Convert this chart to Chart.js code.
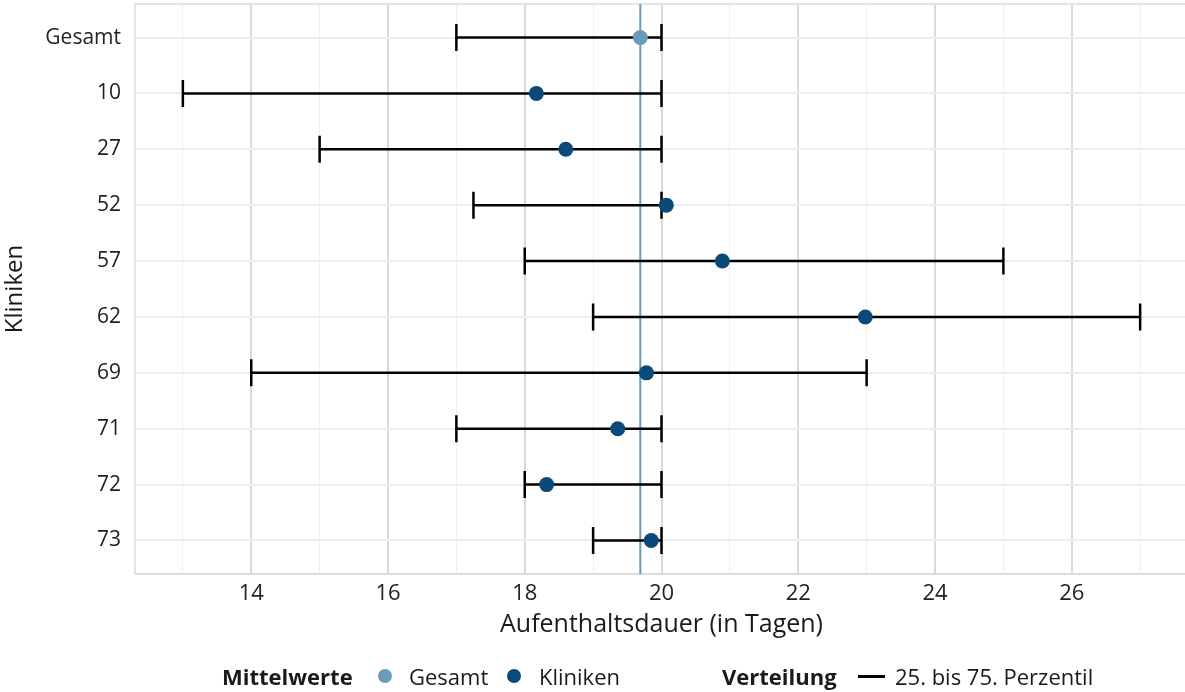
<!DOCTYPE html>
<html>
<head>
<meta charset="utf-8">
<script src="https://cdn.jsdelivr.net/npm/chart.js@4.4.1/dist/chart.umd.min.js"></script>
<style>
    html, body { margin: 0; padding: 0; background: #fff; overflow: hidden; }
    #wrap { position: relative; width: 1185px; height: 692px; overflow: hidden; }
    #chart { position: absolute; left: 0; top: 0; }
    .lg { position: absolute; top: 663px; height: 26px; line-height: 26px; font-family: "Open Sans", sans-serif; font-size: 22px; color: #1a1a1a; white-space: nowrap; }
    .lg b { font-weight: 700; }
    .dot { position: absolute; top: 669px; width: 14px; height: 14px; border-radius: 50%; }
    .dash { position: absolute; top: 675px; height: 3px; width: 27px; background: #000; }
</style>
</head>
<body>
<div id="wrap">
    <canvas id="chart" width="1188" height="692"></canvas>
    <span class="lg" style="left:222px"><b>Mittelwerte</b></span>
    <span class="dot" style="left:378px;background:#6b9bba"></span>
    <span class="lg" style="left:409px">Gesamt</span>
    <span class="dot" style="left:507px;background:#0b4a78"></span>
    <span class="lg" style="left:539px">Kliniken</span>
    <span class="lg" style="left:722px"><b>Verteilung</b></span>
    <span class="dash" style="left:858px"></span>
    <span class="lg" style="left:895px">25. bis 75. Perzentil</span>
</div>
<script>
// Kliniken (Gesamt zuerst), Mittelwerte und 25./75. Perzentil
const kliniken = ["Gesamt", "10", "27", "52", "57", "62", "69", "71", "72", "73"];
const mittelwerte = [19.69, 18.17, 18.6, 20.07, 20.89, 22.98, 19.78, 19.36, 18.32, 19.85];
const perzentil25 = [17, 13, 15, 17.25, 18, 19, 14, 17, 18, 19];
const perzentil75 = [20, 20, 20, 20, 25, 27, 23, 20, 20, 20];
const xTicks = [14, 16, 18, 20, 22, 24, 26];

const FONT = "'Open Sans', sans-serif";
const colGesamt = "#6b9bba";
const colKlinik = "#0b4a78";

// no extra label padding around the panel
function noPad(s) {
    s.paddingTop = 0; s.paddingBottom = 0; s.paddingLeft = 0; s.paddingRight = 0;
}

// vertical mean line + whiskers, drawn under the points
const errorBars = {
    id: "errorBars",
    beforeDatasetsDraw(chart) {
        const { ctx, chartArea: a, scales: { x, y } } = chart;
        ctx.save();
        // panel frame top/right
        ctx.strokeStyle = "#e4e4e4";
        ctx.lineWidth = 2;
        ctx.beginPath();
        ctx.moveTo(a.left, a.top); ctx.lineTo(a.right, a.top); ctx.lineTo(a.right, a.bottom);
        ctx.stroke();

        const gx = x.getPixelForValue(mittelwerte[0]);
        ctx.strokeStyle = colGesamt;
        ctx.lineWidth = 2;
        ctx.beginPath();
        ctx.moveTo(gx, a.top); ctx.lineTo(gx, a.bottom);
        ctx.stroke();

        ctx.strokeStyle = "#000";
        ctx.lineWidth = 2.5;
        kliniken.forEach((k, i) => {
            const py = y.getPixelForValue(i);
            const x0 = x.getPixelForValue(perzentil25[i]);
            const x1 = x.getPixelForValue(perzentil75[i]);
            const h = 13.5;
            ctx.beginPath();
            ctx.moveTo(x0, py); ctx.lineTo(x1, py);
            ctx.moveTo(x0, py - h); ctx.lineTo(x0, py + h);
            ctx.moveTo(x1, py - h); ctx.lineTo(x1, py + h);
            ctx.stroke();
        });
        ctx.restore();
    }
};

new Chart(document.getElementById("chart"), {
    type: "scatter",
    data: {
        datasets: [
            {
                label: "Gesamt",
                data: [{ x: mittelwerte[0], y: 0 }],
                backgroundColor: colGesamt,
                pointRadius: 7.5,
                pointBorderWidth: 0,
            },
            {
                label: "Kliniken",
                data: mittelwerte.slice(1).map((m, i) => ({ x: m, y: i + 1 })),
                backgroundColor: colKlinik,
                pointRadius: 7.5,
                pointBorderWidth: 0,
            },
        ],
    },
    options: {
        responsive: false,
        animation: false,
        layout: { autoPadding: false, padding: { left: 0, right: 0, top: 4, bottom: 52 } },
        plugins: { legend: { display: false }, tooltip: { enabled: false } },
        scales: {
            x: {
                type: "linear",
                min: 12.3,
                max: 27.7,
                afterFit: (s) => { s.height = 66; noPad(s); },
                ticks: {
                    stepSize: 1,
                    includeBounds: false,
                    autoSkip: false,
                    maxRotation: 0,
                    padding: 7,
                    color: "#222",
                    font: { family: FONT, size: 22 },
                    callback: (v) => (xTicks.includes(v) ? v : ""),
                },
                grid: {
                    drawTicks: false,
                    color: (c) => (xTicks.includes(c.tick && c.tick.value) ? "#dadada" : "#efefef"),
                    lineWidth: (c) => (xTicks.includes(c.tick && c.tick.value) ? 2 : 1),
                },
                border: { display: true, color: "#dcdcdc", width: 2 },
                title: {
                    display: true,
                    text: "Aufenthaltsdauer (in Tagen)",
                    color: "#1a1a1a",
                    font: { family: FONT, size: 25 },
                    padding: 0,
                },
            },
            y: {
                type: "linear",
                reverse: true,
                min: -0.6,
                max: 9.6,
                afterFit: (s) => { s.width = 135; noPad(s); },
                ticks: {
                    stepSize: 1,
                    includeBounds: false,
                    autoSkip: false,
                    padding: 14,
                    color: "#222",
                    font: { family: FONT, size: 21 },
                    callback: (v) => (kliniken[v] !== undefined ? kliniken[v] : ""),
                },
                grid: { drawTicks: false, color: "#ededed", lineWidth: 2 },
                border: { display: true, color: "#e4e4e4", width: 2 },
                title: {
                    display: true,
                    text: "Kliniken",
                    color: "#1a1a1a",
                    font: { family: FONT, size: 24 },
                    padding: { top: 1, bottom: 0 },
                },
            },
        },
    },
    plugins: [errorBars],
});
</script>
</body>
</html>
